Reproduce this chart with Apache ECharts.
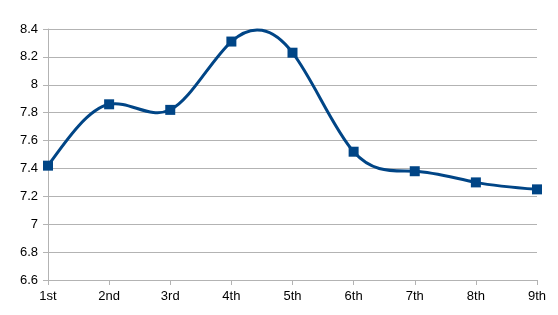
<!DOCTYPE html>
<html><head><meta charset="utf-8">
<script src="https://cdn.jsdelivr.net/npm/echarts@6/dist/echarts.min.js"></script>
<style>html,body{margin:0;padding:0;background:#fff}#c{width:558px;height:315px}</style>
</head><body><div id="c"></div>
<script>
const categories = ['1st','2nd','3rd','4th','5th','6th','7th','8th','9th'];
const values = [7.42, 7.86, 7.82, 8.31, 8.23, 7.52, 7.38, 7.30, 7.25];
const yMin = 6.6, yMax = 8.4, yStep = 0.2;

// Natural cubic spline through pixel points (same as LibreOffice "cubic spline"), drawn as bezier path
function splinePath(pts) {
  const n = pts.length - 1;
  const h = pts[1][0] - pts[0][0];
  const y = pts.map(p => p[1]);
  const M = new Array(n + 1).fill(0);
  if (n >= 2) {
    const a = [], b = [], c = [], d = [];
    for (let i = 1; i < n; i++) {
      a.push(1); b.push(4); c.push(1);
      d.push(6 * (y[i + 1] - 2 * y[i] + y[i - 1]) / (h * h));
    }
    const m = d.length;
    for (let i = 1; i < m; i++) {
      const w = a[i] / b[i - 1];
      b[i] -= w * c[i - 1];
      d[i] -= w * d[i - 1];
    }
    const sol = new Array(m);
    sol[m - 1] = d[m - 1] / b[m - 1];
    for (let i = m - 2; i >= 0; i--) sol[i] = (d[i] - c[i] * sol[i + 1]) / b[i];
    for (let i = 1; i < n; i++) M[i] = sol[i - 1];
  }
  const slope = [];
  for (let i = 0; i < n; i++) slope.push((y[i + 1] - y[i]) / h - h * (2 * M[i] + M[i + 1]) / 6);
  slope.push((y[n] - y[n - 1]) / h + h * (M[n - 1] + 2 * M[n]) / 6);
  let s = 'M' + pts[0][0] + ' ' + pts[0][1];
  for (let i = 0; i < n; i++) {
    const x0 = pts[i][0], x1 = pts[i + 1][0];
    s += ' C' + (x0 + h / 3) + ' ' + (y[i] + slope[i] * h / 3) + ' ' +
         (x1 - h / 3) + ' ' + (y[i + 1] - slope[i + 1] * h / 3) + ' ' + x1 + ' ' + y[i + 1];
  }
  return s;
}

const chart = echarts.init(document.getElementById('c'), null, {renderer:'canvas'});
chart.setOption({
  animation: false,
  grid: {left: 48, right: 21, top: 29, bottom: 35},
  xAxis: {
    type: 'category', data: categories, boundaryGap: false,
    axisLine: {lineStyle: {color: '#b3b3b3', width: 1}},
    axisTick: {show: true, length: 5, lineStyle: {color: '#b3b3b3'}},
    axisLabel: {color: '#000', fontFamily: 'Liberation Sans', fontSize: 13, margin: 10},
    splitLine: {show: false}
  },
  yAxis: {
    type: 'value', min: yMin, max: yMax, interval: yStep,
    axisLine: {show: true, lineStyle: {color: '#b3b3b3', width: 1}},
    axisTick: {show: true, length: 5, lineStyle: {color: '#b3b3b3'}},
    axisLabel: {color: '#000', fontFamily: 'Liberation Sans', fontSize: 13, margin: 10,
      formatter: v => String(+v.toFixed(1))},
    splitLine: {show: true, lineStyle: {color: '#b3b3b3', width: 1}}
  },
  series: [{
    type: 'custom',
    data: [0],
    z: 2,
    renderItem: function (params, api) {
      const pts = values.map((v, i) => api.coord([i, v]));
      return {
        type: 'path',
        shape: {pathData: splinePath(pts)},
        style: {stroke: '#004586', lineWidth: 3, fill: null, lineJoin: 'round'}
      };
    }
  }, {
    type: 'line', data: values, z: 3,
    symbol: 'rect', symbolSize: 10,
    lineStyle: {width: 0, opacity: 0},
    itemStyle: {color: '#004586'}
  }]
});
</script></body></html>
